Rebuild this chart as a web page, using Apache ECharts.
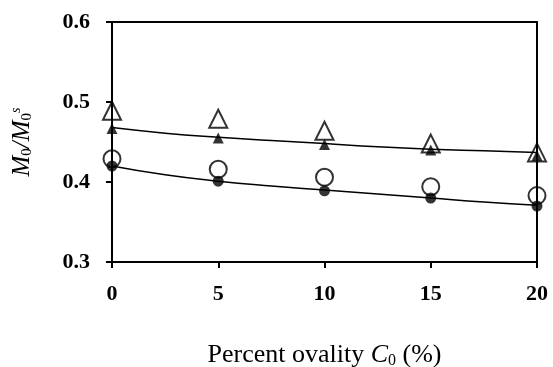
<!DOCTYPE html>
<html>
<head>
<meta charset="utf-8">
<script src="https://cdn.jsdelivr.net/npm/echarts@6/dist/echarts.min.js"></script>
<style>
html, body { margin: 0; padding: 0; background: #fff; }
#chart { width: 553px; height: 367px; }
</style>
</head>
<body>
<div id="chart"></div>
<script>
// 椭圆度 (%)
const ovality = [0, 5, 10, 15, 20]
// 空心三角 / 实心三角 / 空心圆 / 实心圆
const openTriangle = [0.489, 0.479, 0.464, 0.448, 0.437]
const filledTriangle = [0.467, 0.455, 0.447, 0.440, 0.433]
const openCircle = [0.429, 0.416, 0.406, 0.394, 0.383]
const filledCircle = [0.420, 0.401, 0.389, 0.380, 0.370]
// 拟合曲线
const fitX = [0, 2.5, 5, 7.5, 10, 12.5, 15, 17.5, 20]
const fitUpper = [0.468, 0.461, 0.456, 0.452, 0.448, 0.444, 0.441, 0.439, 0.437]
const fitLower = [0.420, 0.409, 0.401, 0.395, 0.390, 0.385, 0.380, 0.375, 0.371]

const pair = (xs, ys) => xs.map((x, i) => [x, ys[i]])

const font = 'Liberation Serif, Times New Roman, serif'
const myChart = echarts.init(document.getElementById('chart'))

const markerSeries = (data, symbol, size, filled) => ({
    type: 'scatter',
    data: pair(ovality, data),
    symbol: symbol,
    symbolSize: size,
    z: filled ? 4 : 3,
    itemStyle: filled
        ? { color: '#000' }
        : { color: 'rgba(0,0,0,0)', borderColor: '#000', borderWidth: 2 }
})

const fitSeries = (data) => ({
    type: 'line',
    data: pair(fitX, data),
    smooth: true,
    showSymbol: false,
    z: 2,
    lineStyle: { color: '#000', width: 1.5 }
})

myChart.setOption({
    animation: false,
    grid: {
        left: 112,
        right: 16,
        top: 22,
        bottom: 105,
        outerBoundsMode: 'none',
        show: true,
        borderColor: '#000',
        borderWidth: 2
    },
    xAxis: {
        type: 'value',
        min: 0,
        max: 20,
        interval: 5,
        splitLine: { show: false },
        axisLine: { lineStyle: { color: '#000', width: 2 } },
        axisTick: { show: true, length: 6, lineStyle: { color: '#000', width: 2 } },
        axisLabel: { color: '#000', fontFamily: font, fontWeight: 'bold', fontSize: 22, margin: 21 },
        name: '{n|Percent ovality }{i|C}{s|0}{n| (%)}',
        nameLocation: 'middle',
        nameGap: 79,
        nameTextStyle: {
            rich: {
                n: { fontFamily: font, fontSize: 26, color: '#000' },
                i: { fontFamily: font, fontSize: 26, fontStyle: 'italic', color: '#000' },
                s: { fontFamily: font, fontSize: 16, color: '#000', padding: [12, 0, 0, 0] }
            }
        }
    },
    yAxis: {
        type: 'value',
        min: 0.3,
        max: 0.6,
        interval: 0.1,
        splitLine: { show: false },
        axisLine: { lineStyle: { color: '#000', width: 2 } },
        axisTick: { show: true, length: 6, lineStyle: { color: '#000', width: 2 } },
        axisLabel: {
            color: '#000', fontFamily: font, fontWeight: 'bold', fontSize: 22, margin: 22,
            formatter: v => v.toFixed(1)
        },
        name: '{i|M}{s|0}{i|/M}{s|0}{p|s}',
        nameLocation: 'middle',
        nameRotate: 90,
        nameGap: 77,
        nameTextStyle: {
            rich: {
                i: { fontFamily: font, fontSize: 25, fontStyle: 'italic', color: '#000' },
                s: { fontFamily: font, fontSize: 15, color: '#000', padding: [10, 0, 0, 0] },
                p: { fontFamily: font, fontSize: 14, fontStyle: 'italic', color: '#000', padding: [0, 0, 12, 0] }
            }
        }
    },
    series: [
        fitSeries(fitUpper),
        fitSeries(fitLower),
        markerSeries(openTriangle, 'triangle', 18, false),
        markerSeries(openCircle, 'circle', 17, false),
        markerSeries(filledTriangle, 'triangle', 11, true),
        markerSeries(filledCircle, 'circle', 11, true)
    ]
})
</script>
</body>
</html>
